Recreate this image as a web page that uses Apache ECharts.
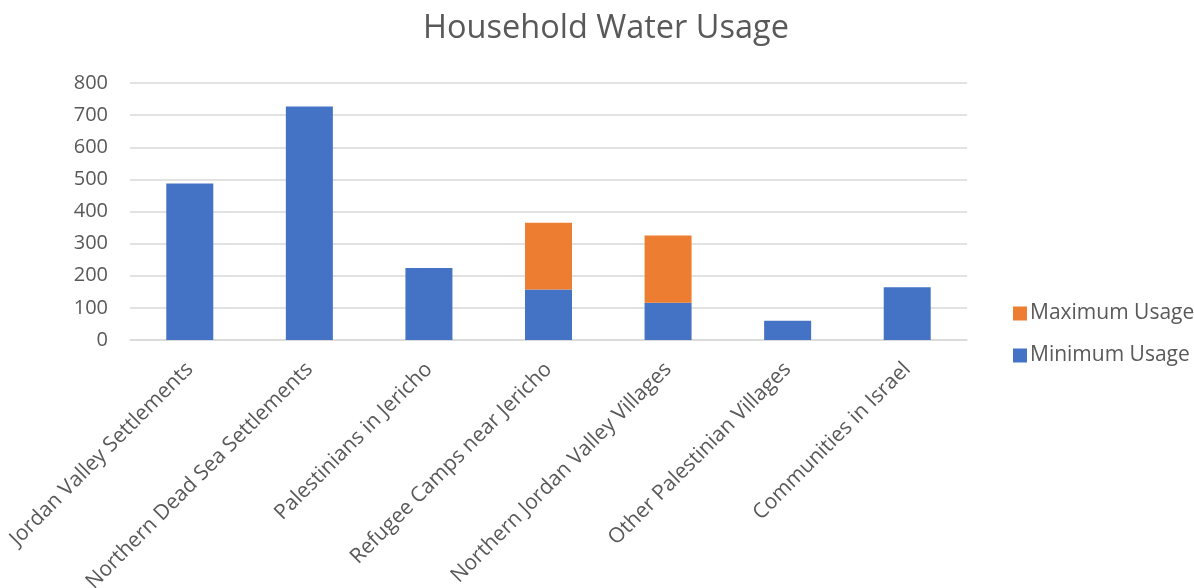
<!DOCTYPE html>
<html>
<head>
<meta charset="utf-8">
<script src="https://cdn.jsdelivr.net/npm/echarts@6/dist/echarts.min.js"></script>
<style>
html,body{margin:0;padding:0;background:#fff;}
#chart{width:1194px;height:588px;}
</style>
</head>
<body>
<div id="chart"></div>
<script>
const categories = [
  'Jordan Valley Settlements',
  'Northern Dead Sea Settlements',
  'Palestinians in Jericho',
  'Refugee Camps near Jericho',
  'Northern Jordan Valley Villages',
  'Other Palestinian Villages',
  'Communities in Israel'
];
const minimumUsage = [487, 727, 224, 157, 116, 60, 164];
const maximumUsage = [null, null, null, 208, 209, null, null];
const yTicks = [0, 100, 200, 300, 400, 500, 600, 700, 800];

const FONT = '"Open Sans", sans-serif';
const chart = echarts.init(document.getElementById('chart'));
chart.setOption({
  animation: false,
  title: {
    text: 'Household Water Usage',
    left: 601, top: 7, textAlign: 'center',
    textStyle: { fontFamily: FONT, fontSize: 32.5, fontWeight: 'normal', color: '#595959' }
  },
  legend: {
    orient: 'vertical',
    left: 1008, top: 298,
    itemWidth: 14, itemHeight: 14, itemGap: 21,
    icon: 'rect',
    data: ['Maximum Usage', 'Minimum Usage'],
    textStyle: { fontFamily: FONT, fontSize: 21, color: '#595959', padding: [0, 0, 0, -2] }
  },
  grid: { left: 130, right: 227, top: 83, bottom: 248, containLabel: false, outerBoundsMode: 'none' },
  xAxis: {
    type: 'category',
    data: categories,
    axisLine: { lineStyle: { color: '#D9D9D9', width: 1.5 } },
    axisTick: { show: false },
    axisLabel: {
      rotate: 45, interval: 0, margin: 26,
      fontFamily: FONT, fontSize: 21, color: '#595959'
    }
  },
  yAxis: {
    type: 'value',
    min: yTicks[0], max: yTicks[yTicks.length - 1], interval: 100,
    axisLine: { show: false },
    axisTick: { show: false },
    splitLine: { lineStyle: { color: '#D9D9D9', width: 1.5 } },
    axisLabel: { margin: 22, fontFamily: FONT, fontSize: 20, color: '#595959' }
  },
  series: [
    {
      name: 'Minimum Usage', type: 'bar', stack: 'usage',
      data: minimumUsage, barWidth: 47,
      itemStyle: { color: '#4472C4' }
    },
    {
      name: 'Maximum Usage', type: 'bar', stack: 'usage',
      data: maximumUsage, barWidth: 47,
      itemStyle: { color: '#ED7D31' }
    }
  ]
});
</script>
</body>
</html>
